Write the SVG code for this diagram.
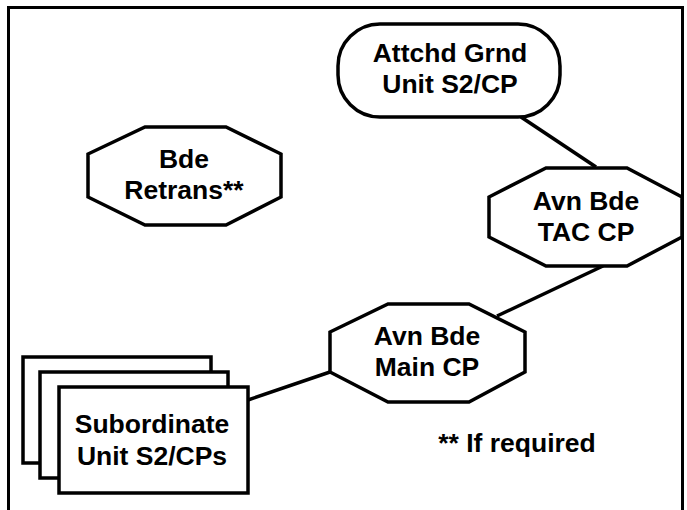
<svg xmlns="http://www.w3.org/2000/svg" width="687" height="510" viewBox="0 0 687 510">
<style>
.s{fill:#fff;stroke:#000;stroke-width:3.5;stroke-linejoin:miter}
.c{stroke:#000;stroke-width:3.5;fill:none}
text{font-family:"Liberation Sans",Arial,sans-serif;font-weight:bold;font-size:26.5px;fill:#000;text-anchor:middle}
</style>
<rect width="687" height="510" fill="#fff"/>
<path d="M8.5,510 V7.5 H682.5 V510" fill="none" stroke="#000" stroke-width="3"/>
<g id="connectors">
<line class="c" x1="521" y1="117" x2="596" y2="167"/>
<line class="c" x1="603" y1="266" x2="497" y2="316"/>
<line class="c" x1="330" y1="372" x2="248" y2="400"/>
</g>
<g id="attchd">
<rect class="s" x="338" y="24" width="222" height="93" rx="42" ry="42"/>
<text x="450" y="62">Attchd Grnd</text>
<text x="450" y="93">Unit S2/CP</text>
</g>
<g id="retrans">
<polygon class="s" points="145,127 226,127 281,154 281,197 226,225 145,225 88,197 88,154"/>
<text x="184" y="168">Bde</text>
<text x="184" y="199">Retrans**</text>
</g>
<g id="tac">
<polygon class="s" points="546,168 627,168 682,197 682,237 627,266 546,266 489,237 489,197"/>
<text x="586" y="210">Avn Bde</text>
<text x="586" y="241">TAC CP</text>
</g>
<g id="main">
<polygon class="s" points="388,304 469,304 525,332 525,372 469,402 388,402 330,372 330,332"/>
<text x="427" y="345">Avn Bde</text>
<text x="427" y="376">Main CP</text>
</g>
<g id="subordinate">
<rect class="s" x="23" y="357" width="188" height="106"/>
<rect class="s" x="40" y="372" width="188" height="106"/>
<rect class="s" x="59" y="387" width="189" height="106"/>
<text x="152" y="433">Subordinate</text>
<text x="152" y="465">Unit S2/CPs</text>
</g>
<g id="note">
<text x="517" y="452">**  If required</text>
</g>
</svg>
